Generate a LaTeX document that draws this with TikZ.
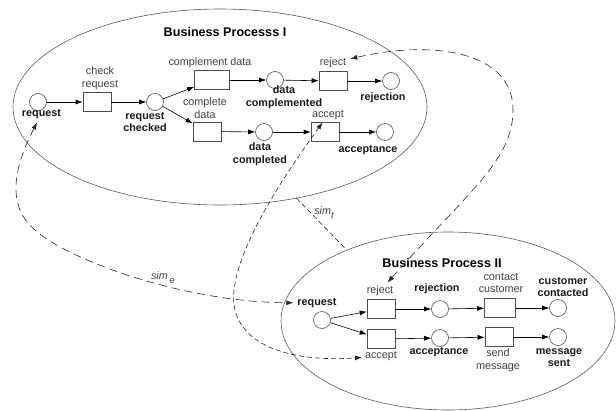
\documentclass[tikz,border=0pt]{standalone}
\usepackage{fontspec}
\setmainfont{Liberation Sans}
\usetikzlibrary{arrows.meta,shapes.geometric}
\newcommand\lblsize{\fontsize{10.8}{12.6}\selectfont}
\newcommand\ttlsize{\fontsize{12.6}{14}\selectfont}
\newcommand\subsize{\fontsize{9.5}{9.5}\selectfont}
\begin{document}
\begin{tikzpicture}[x=1pt,y=-1pt,
  proc/.style={ellipse, draw=black!65, line width=0.6pt, inner sep=0pt, outer sep=0pt},
  place/.style={circle, draw=black!70, line width=0.6pt, minimum size=17pt, inner sep=0pt},
  trans/.style={rectangle, draw=black!70, line width=0.6pt, minimum width=28pt, minimum height=19pt, inner sep=0pt},
  lbl/.style={font=\lblsize, text=black!75, align=center, inner sep=1pt},
  blbl/.style={font=\lblsize\bfseries, text=black!90, align=center, inner sep=1pt},
  ttl/.style={font=\ttlsize\bfseries, text=black, inner sep=1pt},
  simlbl/.style={font=\lblsize\itshape, text=black!75, inner sep=1pt},
  tip/.style={Latex[length=7pt,width=5pt]},
  flow/.style={-{Latex[length=7pt,width=5pt]}, line width=0.6pt, black},
  simlong/.style={{Latex[length=7pt,width=5pt]}-{Latex[length=7pt,width=5pt]}, line width=0.6pt, black!85, dash pattern=on 8pt off 5pt, shorten <=3pt, shorten >=3pt},
  simshort/.style={{Latex[length=7pt,width=5pt]}-{Latex[length=7pt,width=5pt]}, line width=0.6pt, black!85, dash pattern=on 5pt off 3pt, shorten <=2pt, shorten >=2pt},
  simrel/.style={line width=0.6pt, black!85, dash pattern=on 5pt off 3pt}
]
\useasboundingbox (0,0) rectangle (616,410);

% the two process boundaries
\node[proc, minimum width=414pt, minimum height=196pt] (E1) at (220,107) {};
\node[proc, minimum width=334pt, minimum height=178pt] (E2) at (448,321) {};

\node[ttl] (T1) at (225,32) {Business Processs I};
\node[ttl] (T2) at (442,263) {Business Process II};

% ---- Business Process I ----
\node[place] (rqI) at (38,102) {};
\node[trans] (crI) at (97,102) {};
\node[place] (rcI) at (155,102) {};
\node[trans, minimum width=35pt] (cdI) at (212,80) {};
\node[trans] (cpI) at (207,131.5) {};
\node[place] (dmI) at (275,80) {};
\node[place] (dcI) at (264,132) {};
\node[trans] (rjI) at (333,81) {};
\node[place] (rnI) at (391,81) {};
\node[trans] (acI) at (325,132) {};
\node[place] (anI) at (385,132) {};

\node[lbl]  (crIl) at (100,78.5) {check\\request};
\node[blbl] (rqIl) at (41.5,114) {request};
\node[blbl] (rcIl) at (145,122) {request\\checked};
\node[lbl]  (cdIl) at (210,63) {complement data};
\node[lbl]  (cpIl) at (205,108) {complete\\data};
\node[blbl] (dmIl) at (284,97.5) {data\\complemented};
\node[blbl] (dcIl) at (260,154) {data\\completed};
\node[lbl]  (rjIl) at (333,63) {reject};
\node[blbl] (rnIl) at (383,98) {rejection};
\node[lbl]  (acIl) at (328,115) {accept};
\node[blbl] (anIl) at (368,150) {acceptance};

\draw[flow] (rqI) -- (crI);
\draw[flow] (crI) -- (rcI);
\draw[flow] (rcI) -- (cdI);
\draw[flow] (rcI) -- (cpI);
\draw[flow] (cdI) -- (dmI);
\draw[flow] (dmI) -- (rjI);
\draw[flow] (rjI) -- (rnI);
\draw[flow] (cpI) -- (dcI);
\draw[flow] (dcI) -- (acI);
\draw[flow] (acI) -- (anI);

% ---- Business Process II ----
\node[place] (rqII) at (322,320) {};
\node[trans] (rjII) at (381,309) {};
\node[trans] (acII) at (381,339) {};
\node[place] (rnII) at (440,309) {};
\node[place] (anII) at (440,338) {};
\node[trans, minimum width=31pt] (ccII) at (500,308) {};
\node[trans] (smII) at (499,337) {};
\node[place] (ctII) at (558,308) {};
\node[place] (msII) at (558,337) {};

\node[blbl] (rqIIl) at (317,303) {request};
\node[lbl]  (rjIIl) at (380,291) {reject};
\node[lbl]  (acIIl) at (381,356) {accept};
\node[blbl] (rnIIl) at (437,289) {rejection};
\node[blbl] (anIIl) at (439,352) {acceptance};
\node[lbl]  (ccIIl) at (501,283) {contact\\customer};
\node[lbl]  (smIIl) at (498,360.5) {send\\message};
\node[blbl] (ctIIl) at (563,287) {customer\\contacted};
\node[blbl] (msIIl) at (559,357.5) {message\\sent};

\draw[flow] (rqII) -- (rjII);
\draw[flow] (rqII) -- (acII);
\draw[flow] (rjII) -- (rnII);
\draw[flow] (rnII) -- (ccII);
\draw[flow] (ccII) -- (ctII);
\draw[flow] (acII) -- (anII);
\draw[flow] (anII) -- (smII);
\draw[flow] (smII) -- (msII);

% ---- similarity relations ----
\coordinate (e1) at (35,230);
\draw[simlong] (rqIl) .. controls (15,165) and (5,205) .. (e1)
  .. controls (65,258) and (180,302) .. (rqIIl);
\node[simlbl] (se) at (163,278) {sim\,\raisebox{-4pt}{\subsize e}};

\coordinate (t1) at (513,110);
\draw[simlong] (rjIIl) .. controls (470,190) and (513,160) .. (t1)
  .. controls (513,50) and (430,40) .. (rjIl);

\coordinate (a1) at (235,310);
\draw[simshort] (acIl) .. controls (270,195) and (225,270) .. (a1)
  .. controls (245,350) and (300,362) .. (acIIl);

\draw[simrel] (E1.-50.5) -- (E2.145.8);
\node[simlbl] (st) at (324,213) {sim\raisebox{-4pt}{\subsize t}};
\end{tikzpicture}
\end{document}
